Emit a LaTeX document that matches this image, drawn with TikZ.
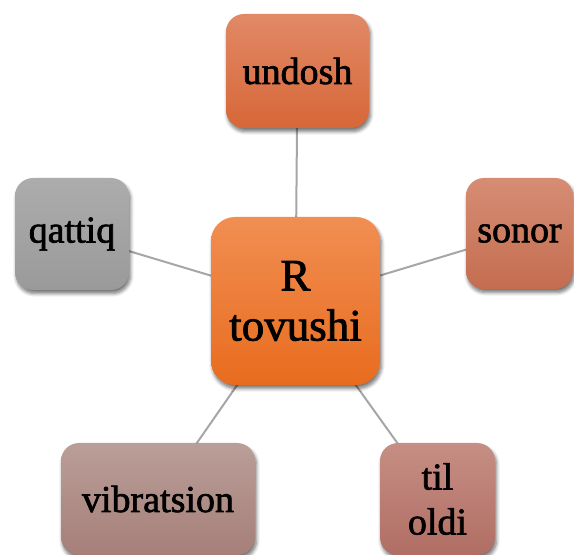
\documentclass[tikz,border=0pt]{standalone}
\usepackage{fontspec}
\setmainfont{Liberation Serif}[AutoFakeBold=1.8]
\usetikzlibrary{shadows.blur}

\definecolor{linkgray}{RGB}{166,166,166}
\definecolor{ctrtop}{RGB}{241,142,82}
\definecolor{ctrbot}{RGB}{232,108,30}
\definecolor{undtop}{RGB}{225,137,102}
\definecolor{undbot}{RGB}{215,103,56}
\definecolor{qattop}{RGB}{172,172,172}
\definecolor{qatbot}{RGB}{154,154,154}
\definecolor{sontop}{RGB}{214,141,116}
\definecolor{sonbot}{RGB}{196,109,80}
\definecolor{vibtop}{RGB}{186,158,152}
\definecolor{vibbot}{RGB}{166,127,121}
\definecolor{tiltop}{RGB}{198,142,132}
\definecolor{tilbot}{RGB}{176,110,100}

\tikzset{
  x=1pt, y=1pt,
  leaf/.style={rounded corners=18pt, inner sep=0pt, align=center,
    font=\fontsize{38}{45}\selectfont\bfseries,
    blur shadow={shadow xshift=1.5pt, shadow yshift=-3.5pt,
      shadow blur radius=3.5pt, shadow blur steps=6, shadow opacity=55}},
  hub/.style={leaf, rounded corners=24pt, font=\fontsize{45}{50}\selectfont\bfseries},
  link/.style={draw=linkgray, line width=2pt}
}

\begin{document}
\begin{tikzpicture}
  \useasboundingbox (0,0) rectangle (574,555);

  % spokes from the hub to each satellite
  \coordinate (pc) at (295.5,254);
  \coordinate (pu) at (297.5,484);
  \coordinate (pq) at (72,321);
  \coordinate (ps) at (519.5,321.5);
  \coordinate (pv) at (158,56);
  \coordinate (pt) at (437.5,56);
  \draw[link] (pc) -- (pu);
  \draw[link] (pc) -- (pq);
  \draw[link] (pc) -- (ps);
  \draw[link] (pc) -- (pv);
  \draw[link] (pc) -- (pt);

  % central node and its satellites, drawn over the spokes
  \node[hub, minimum width=169pt, minimum height=168pt,
        top color=ctrtop, bottom color=ctrbot] (ctr) at (pc) {R\\tovushi};
  \node[leaf, minimum width=143pt, minimum height=114pt,
        top color=undtop, bottom color=undbot] (und) at (pu) {undosh};
  \node[leaf, minimum width=114pt, minimum height=112pt,
        top color=qattop, bottom color=qatbot] (qat) at (pq) {qattiq};
  \node[leaf, minimum width=107pt, minimum height=111pt,
        top color=sontop, bottom color=sonbot] (son) at (ps) {sonor};
  \node[leaf, minimum width=194pt, minimum height=112pt,
        top color=vibtop, bottom color=vibbot] (vib) at (pv) {vibratsion};
  \node[leaf, minimum width=115pt, minimum height=112pt,
        top color=tiltop, bottom color=tilbot] (til) at (pt) {til\\oldi};
\end{tikzpicture}
\end{document}
